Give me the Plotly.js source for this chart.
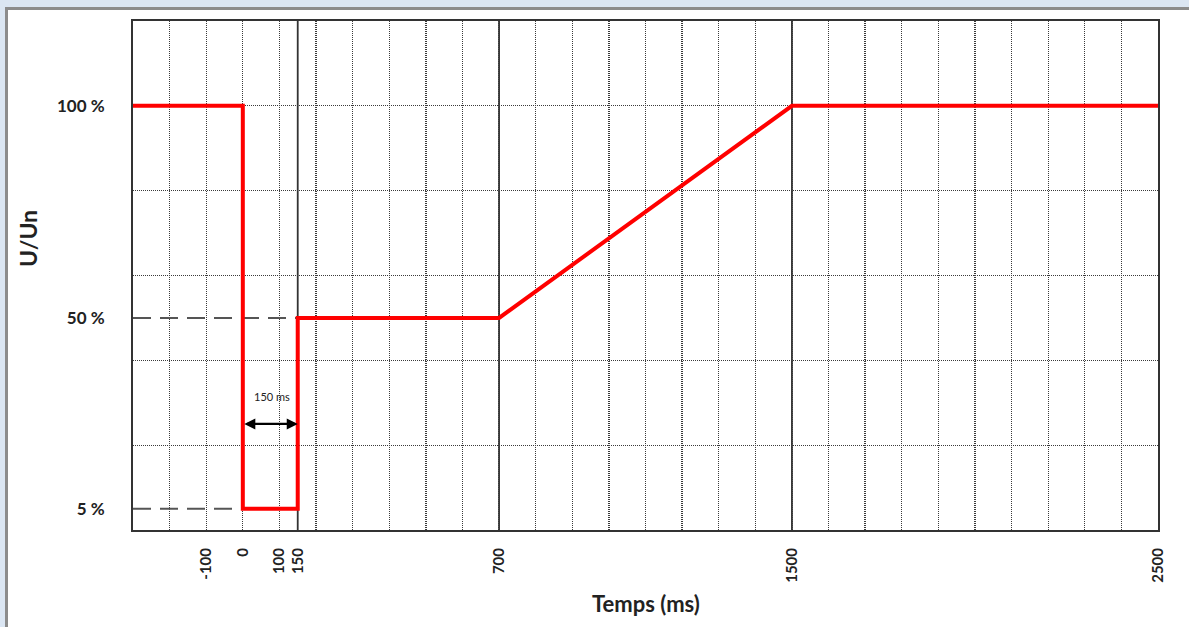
<!DOCTYPE html>
<html>
<head>
<meta charset="utf-8">
<script src="https://cdn.plot.ly/plotly-3.0.1.min.js"></script>
<style>
  html, body { margin: 0; padding: 0; background: #dbe6f3; width: 1189px; height: 627px; overflow: hidden; }
  #frame { position: absolute; left: 5px; top: 7px; width: 1184px; height: 620px; background: #ffffff;
           border-left: 3px solid #8c8c8c; border-top: 3px solid #8c8c8c; box-sizing: border-box; }
  #chart { position: absolute; left: 0; top: 0; width: 1189px; height: 627px; }
</style>
</head>
<body>
<div id="frame"></div>
<div id="chart"></div>
<script>
// ---- data ----
const timeMs = [-300, 0, 0, 150, 150, 700, 1500, 2500];
const voltagePct = [100, 100, 5, 5, 50, 50, 100, 100];

const refLowX = [-300, 0];
const refLowY = [5, 5];
const refMidX = [-300, 150];
const refMidY = [50, 50];

const xTickVals = [-100, 0, 100, 150, 700, 1500, 2500];
const xTickText = ['-100', '0', '100', '150', '700', '1500', '2500'];
const yTickVals = [5, 50, 100];
const yTickText = ['5 %', '50 %', '100 %'];
const markerTimes = [150, 700, 1500];

const durationStart = 0;
const durationEnd = 150;
const durationLabel = '150 ms';
const durationLabelY = 31.5;
const durationArrowY = 25;

const xRange = [-300, 2500];
const yRange = [0, 120];

const xTitle = 'Temps (ms)';
const yTitle = 'U/Un';

// ---- traces ----
const FONT = 'Lato, "Open Sans", sans-serif';
const traces = [
  { x: refMidX, y: refMidY, mode: 'lines', line: { color: '#555555', width: 2, dash: '18px,9px' }, hoverinfo: 'skip', showlegend: false },
  { x: refLowX, y: refLowY, mode: 'lines', line: { color: '#555555', width: 2, dash: '18px,9px' }, hoverinfo: 'skip', showlegend: false },
  { x: timeMs, y: voltagePct, mode: 'lines', line: { color: '#ff0000', width: 4 }, showlegend: false },
  { x: [xRange[0]], y: [yRange[0]], xaxis: 'x2', yaxis: 'y2', mode: 'markers', marker: { opacity: 0 }, hoverinfo: 'skip', showlegend: false }
];

const shapes = markerTimes.map(t => ({
  type: 'line', xref: 'x', yref: 'paper', x0: t, x1: t, y0: 0, y1: 1,
  line: { color: '#333333', width: 1.8 }, layer: 'below'
}));

const layout = {
  width: 1189, height: 627,
  margin: { l: 133, r: 31, t: 21, b: 97 },
  paper_bgcolor: 'rgba(0,0,0,0)',
  plot_bgcolor: 'rgba(0,0,0,0)',
  font: { family: FONT, color: '#222222' },
  xaxis: {
    range: xRange, tickmode: 'array', tickvals: xTickVals, ticktext: xTickText,
    tickangle: -90, tickfont: { family: FONT, size: 15, color: '#222222', weight: 'bold' },
    ticks: '', ticklabelstandoff: 10, showgrid: false, zeroline: false,
    showline: true, mirror: true, linecolor: '#333333', linewidth: 2
  },
  yaxis: {
    range: yRange, tickmode: 'array', tickvals: yTickVals, ticktext: yTickText,
    tickfont: { family: FONT, size: 17, color: '#222222', weight: 'bold' },
    ticks: '', ticklabelstandoff: 23, showgrid: false, zeroline: false,
    showline: true, mirror: true, linecolor: '#333333', linewidth: 2
  },
  xaxis2: {
    overlaying: 'x', range: xRange, dtick: 100, tick0: 0, showticklabels: false, ticks: '',
    showgrid: true, gridcolor: '#3a3a3a', gridwidth: 1.3, griddash: '1px,1px', zeroline: false, showline: false
  },
  yaxis2: {
    overlaying: 'y', range: yRange, dtick: 20, tick0: 0, showticklabels: false, ticks: '',
    showgrid: true, gridcolor: '#3a3a3a', gridwidth: 1.3, griddash: '1px,1px', zeroline: false, showline: false
  },
  shapes: shapes,
  annotations: [
    { x: (durationStart + durationEnd) / 2 + 4, y: durationLabelY, xref: 'x', yref: 'y', text: durationLabel,
      showarrow: false, font: { family: FONT, size: 11, color: '#222222' } },
    { x: durationEnd, y: durationArrowY, ax: durationStart, ay: durationArrowY, xref: 'x', yref: 'y', axref: 'x', ayref: 'y',
      text: '', showarrow: true, arrowside: 'end+start', arrowhead: 2, arrowsize: 1, arrowwidth: 2.2, arrowcolor: '#000000' },
    { x: 0.5, y: 603, xref: 'paper', yref: 'paper', xanchor: 'center', yanchor: 'middle', text: xTitle, showarrow: false,
      font: { family: FONT, size: 22, color: '#222222', weight: 'bold' } },
    { x: 28, y: 239, xref: 'paper', yref: 'paper', xanchor: 'center', yanchor: 'middle', textangle: -90, text: yTitle, showarrow: false,
      font: { family: FONT, size: 23, color: '#222222', weight: 'bold' } }
  ]
};

// convert pixel placements of the two axis titles into paper coordinates
const plotW = layout.width - layout.margin.l - layout.margin.r;
const plotH = layout.height - layout.margin.t - layout.margin.b;
const xa = layout.annotations[2];
xa.y = (layout.height - layout.margin.b - xa.y) / plotH;
const ya = layout.annotations[3];
ya.x = (ya.x - layout.margin.l) / plotW;
ya.y = (layout.height - layout.margin.b - ya.y) / plotH;

Plotly.newPlot('chart', traces, layout, { displayModeBar: false, staticPlot: true });
</script>
</body>
</html>
